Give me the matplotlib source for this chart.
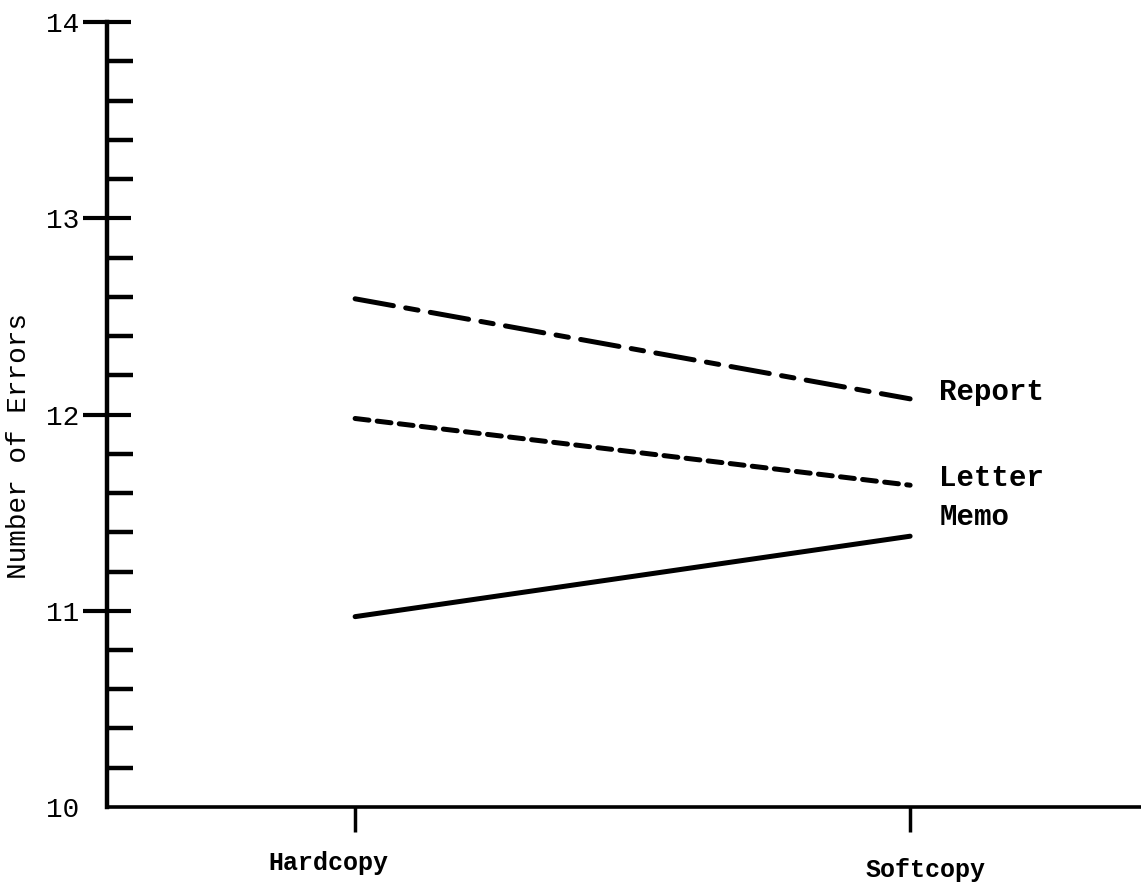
import numpy as np
import matplotlib
matplotlib.use("Agg")
import matplotlib.pyplot as plt
from matplotlib.ticker import MultipleLocator
from matplotlib.transforms import ScaledTranslation

# data
conditions = ["Hardcopy", "Softcopy"]
report = [12.59, 12.08]
letter = [11.98, 11.64]
memo = [10.97, 11.38]
series_names = ["Report", "Letter", "Memo"]

plt.rcParams['font.family'] = ['Liberation Mono', 'DejaVu Sans Mono']
plt.rcParams['font.weight'] = 'bold'
plt.rcParams['lines.scale_dashes'] = False

fig = plt.figure(figsize=(11.41, 8.86), dpi=100)
ax = fig.add_axes([0.0938, 0.0892, 0.9062, 0.8858])

x = np.arange(len(conditions))
lw = 3.6
ax.plot(x, report, color='black', lw=lw, linestyle=(0, (28, 9, 9, 9)),
        solid_capstyle='round', dash_capstyle='round')
ax.plot(x, letter, color='black', lw=lw, linestyle=(0, (10, 6)),
        dash_capstyle='round')
ax.plot(x, memo, color='black', lw=lw, solid_capstyle='round')

# line labels at the softcopy end
offsets = [5, 5, 14]
for name, vals, dy in zip(series_names, [report, letter, memo], offsets):
    ax.annotate(name, xy=(x[-1], vals[-1]), xytext=(21, dy),
                textcoords='offset points', ha='left', va='center',
                fontsize=21, fontweight='bold')

ax.set_xlim(-0.447, 1.416)
ax.set_ylim(10, 14)

for s in ['top', 'right']:
    ax.spines[s].set_visible(False)
ax.spines['left'].set_linewidth(3.2)
ax.spines['bottom'].set_linewidth(2.6)

ax.set_xticks(x)
ax.set_xticklabels(conditions, fontsize=18, fontweight='bold')
ax.tick_params(axis='x', direction='out', length=18, width=2.5, pad=14)
label_shift = [(-27, 0), (15, -7)]
for lab, (dx, dy) in zip(ax.get_xticklabels(), label_shift):
    lab.set_transform(lab.get_transform() +
                      ScaledTranslation(dx / 100, dy / 100, fig.dpi_scale_trans))

ax.set_yticks([10, 11, 12, 13, 14])
ax.set_yticklabels(['10', '11', '12', '13', '14'], fontsize=20, fontweight='normal')
ax.yaxis.set_minor_locator(MultipleLocator(0.2))
ax.tick_params(axis='y', which='major', direction='inout', length=34, width=3, pad=3)
ax.tick_params(axis='y', which='minor', direction='in', length=19, width=3.2)
ax.yaxis.get_major_ticks()[0].tick1line.set_visible(False)

ax.set_ylabel("Number of Errors", fontsize=20, fontweight='normal')
ax.yaxis.set_label_coords(-0.073, 0.46)

fig.savefig("out.png", dpi=100)
